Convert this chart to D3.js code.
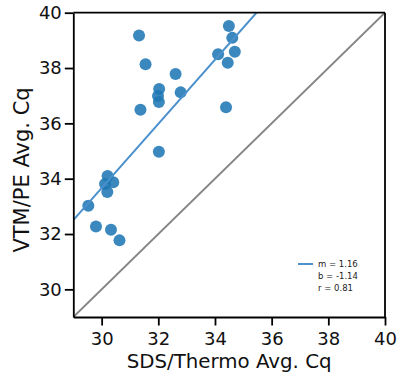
<!DOCTYPE html>
<html>
<head>
<meta charset="utf-8">
<script src="https://cdn.jsdelivr.net/npm/d3@7"></script>
<style>
  body { margin: 0; background: #fff; }
  text { font-family: "DejaVu Sans", sans-serif; }
</style>
</head>
<body>
<div id="chart"></div>
<script>
// SDS/Thermo Cq (x) vs VTM/PE Cq (y)
const sdsCq = [31.32, 31.55, 32.61, 32.03, 31.99, 32.02, 32.79, 31.37, 32.02,
  34.49, 34.61, 34.11, 34.70, 34.45, 34.39,
  30.21, 30.12, 30.41, 30.20, 29.53, 29.80, 30.33, 30.63];
const vtmCq = [39.18, 38.14, 37.78, 37.24, 36.99, 36.77, 37.12, 36.49, 34.97,
  39.52, 39.09, 38.50, 38.59, 38.19, 36.58,
  34.10, 33.81, 33.87, 33.52, 33.02, 32.27, 32.15, 31.77];
const fit = { m: 1.16, b: -1.14, r: 0.81 };
const ticks = [30, 32, 34, 36, 38, 40];
const domain = [29, 40];

const width = 397, height = 379;
const margin = { top: 12.7, right: 12, bottom: 62, left: 73.3 };

const svg = d3.select('#chart').append('svg')
  .attr('width', width)
  .attr('height', height);

const x = d3.scaleLinear().domain(domain).range([margin.left, width - margin.right]);
const y = d3.scaleLinear().domain(domain).range([height - margin.bottom, margin.top]);

svg.append('clipPath').attr('id', 'clip')
  .append('rect')
  .attr('x', x(domain[0])).attr('y', y(domain[1]))
  .attr('width', x(domain[1]) - x(domain[0]))
  .attr('height', y(domain[0]) - y(domain[1]));

const plot = svg.append('g').attr('clip-path', 'url(#clip)');

// identity line
plot.append('line')
  .attr('x1', x(domain[0])).attr('y1', y(domain[0]))
  .attr('x2', x(domain[1])).attr('y2', y(domain[1]))
  .attr('stroke', '#858585')
  .attr('stroke-width', 2);

// points
const pts = sdsCq.map((v, i) => ({ x: v, y: vtmCq[i] }));
plot.selectAll('circle')
  .data(pts)
  .enter()
  .append('circle')
  .attr('cx', d => x(d.x))
  .attr('cy', d => y(d.y))
  .attr('r', 6)
  .attr('fill', '#1f77b4')
  .attr('fill-opacity', 0.88);

// regression line
const fitColor = '#4a90cc';
plot.append('line')
  .attr('x1', x(domain[0])).attr('y1', y(fit.m * domain[0] + fit.b))
  .attr('x2', x(domain[1])).attr('y2', y(fit.m * domain[1] + fit.b))
  .attr('stroke', fitColor)
  .attr('stroke-width', 2);

// axes
const xAxis = svg.append('g')
  .attr('transform', 'translate(0,' + y(domain[0]) + ')')
  .call(d3.axisBottom(x).tickValues(ticks).tickSize(8.5).tickPadding(7).tickSizeOuter(0));
const yAxis = svg.append('g')
  .attr('transform', 'translate(' + x(domain[0]) + ',0)')
  .call(d3.axisLeft(y).tickValues(ticks).tickSize(8.5).tickPadding(3).tickSizeOuter(0));

[xAxis, yAxis].forEach(a => {
  a.select('.domain').attr('stroke', '#000').attr('stroke-width', 1.8);
  a.selectAll('.tick line').attr('stroke', '#000').attr('stroke-width', 1.8);
  a.selectAll('.tick text')
    .attr('fill', '#111')
    .style('font-size', '18px')
    .style('font-family', '"DejaVu Sans", sans-serif');
});

// top and right spines
svg.append('line')
  .attr('x1', x(domain[0])).attr('y1', y(domain[1]))
  .attr('x2', x(domain[1])).attr('y2', y(domain[1]))
  .attr('stroke', '#000').attr('stroke-width', 1.8);
svg.append('line')
  .attr('x1', x(domain[1])).attr('y1', y(domain[1]))
  .attr('x2', x(domain[1])).attr('y2', y(domain[0]))
  .attr('stroke', '#000').attr('stroke-width', 1.8);

// axis labels
svg.append('text')
  .attr('x', (x(domain[0]) + x(domain[1])) / 2)
  .attr('y', 368)
  .attr('text-anchor', 'middle')
  .attr('fill', '#111')
  .style('font-size', '19.8px')
  .text('SDS/Thermo Avg. Cq');

svg.append('text')
  .attr('transform', 'translate(28.5,170) rotate(-90)')
  .attr('text-anchor', 'middle')
  .attr('fill', '#111')
  .style('font-size', '21px')
  .text('VTM/PE Avg. Cq');

// legend
const lg = svg.append('g').attr('transform', 'translate(298,264)');
lg.append('line')
  .attr('x1', 0).attr('x2', 15)
  .attr('stroke', fitColor).attr('stroke-width', 2);
const legendLines = ['m = ' + fit.m.toFixed(2), 'b = ' + fit.b.toFixed(2), 'r = ' + fit.r.toFixed(2)];
lg.selectAll('text.leg')
  .data(legendLines)
  .enter()
  .append('text')
  .attr('class', 'leg')
  .attr('x', 20)
  .attr('y', (d, i) => i * 11.8 + 3)
  .attr('fill', '#222')
  .style('font-size', '8.5px')
  .text(d => d);
</script>
</body>
</html>
